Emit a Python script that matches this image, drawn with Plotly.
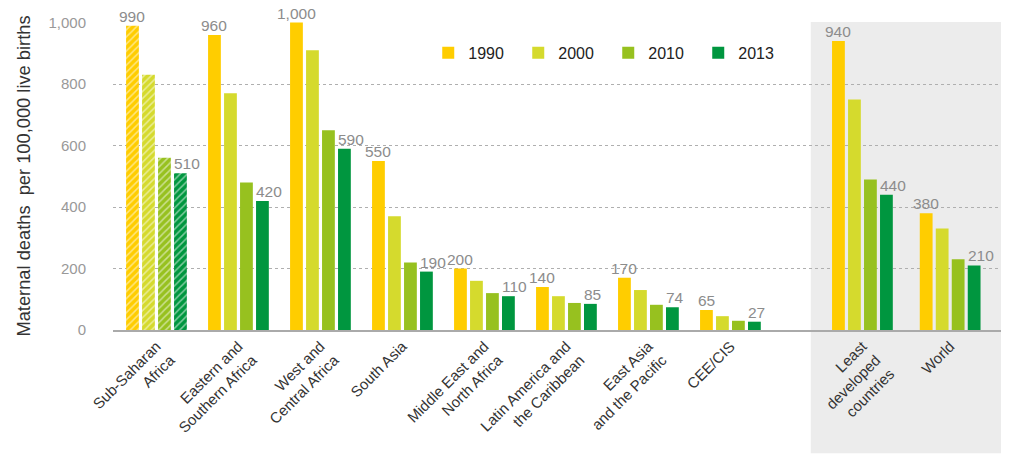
import plotly.graph_objects as go

# regions / groups, in chart order
categories = [
    "Sub-Saharan<br>Africa",
    "Eastern and<br>Southern Africa",
    "West and<br>Central Africa",
    "South Asia",
    "Middle East and<br>North Africa",
    "Latin America and<br>the Caribbean",
    "East Asia<br>and the Pacific",
    "CEE/CIS",
    "Least<br>developed<br>countries",
    "World",
]

years = ["1990", "2000", "2010", "2013"]

mmr_1990 = [990, 960, 1000, 550, 200, 140, 170, 65, 940, 380]
mmr_2000 = [830, 770, 910, 370, 160, 110, 130, 45, 750, 330]
mmr_2010 = [560, 480, 650, 220, 120, 88, 82, 30, 490, 230]
mmr_2013 = [510, 420, 590, 190, 110, 85, 74, 27, 440, 210]

colors = ["#FFCD00", "#D5DA2D", "#97C11F", "#00963F"]

# x position of each group: the last two sit apart on a grey panel
group_x = list(range(8)) + [8.61, 9.68]
x_range = [-0.53, 10.30]

bargap = 0.22
bargroupgap = 0.2
slot = (1 - bargap) / 4

series = [mmr_1990, mmr_2000, mmr_2010, mmr_2013]

fig = go.Figure()

for year, vals, col in zip(years, series, colors):
    fig.add_trace(go.Bar(
        x=group_x,
        y=vals,
        name=year,
        showlegend=False,
        marker=dict(
            color=col,
            line=dict(width=0),
            pattern=dict(
                shape=["/"] + [""] * (len(vals) - 1),
                fgcolor="white",
                size=5,
                solidity=0.3,
            ),
        ),
        hoverinfo="skip",
    ))

# legend entries (plain squares, not hatched)
for year, col in zip(years, colors):
    fig.add_trace(go.Scatter(
        x=[None], y=[None], mode="markers", name=year,
        marker=dict(symbol="square", size=12, color=col),
    ))

# value labels: 1990 centred over its bar, 2013 starting at its bar's left edge
label_font = dict(family="Liberation Sans, Arial, sans-serif", size=15.5, color="#8C8C8C")
annotations = []
for gx, v in zip(group_x, mmr_1990):
    annotations.append(dict(
        x=gx - 1.5 * slot, y=v, text=f"{v:,}", showarrow=False,
        xanchor="center", yanchor="bottom", yshift=-1, font=label_font,
    ))
for gx, v in zip(group_x, mmr_2013):
    left = gx + 1.5 * slot - slot * (1 - bargroupgap) / 2
    annotations.append(dict(
        x=left, y=v, text=f"{v:,}", showarrow=False,
        xanchor="left", yanchor="bottom", yshift=-1, xshift=-2, font=label_font,
    ))

panel_x0 = (7.98 - x_range[0]) / (x_range[1] - x_range[0])

fig.update_layout(
    width=1009,
    height=456,
    margin=dict(l=113, r=8, t=22, b=121),
    paper_bgcolor="white",
    plot_bgcolor="rgba(0,0,0,0)",
    font=dict(family="Liberation Sans, Arial, sans-serif", size=15, color="#333333"),
    barmode="group",
    bargap=bargap,
    bargroupgap=bargroupgap,
    annotations=annotations,
    shapes=[dict(
        type="rect", xref="paper", yref="paper",
        x0=panel_x0, x1=1, y0=-0.4, y1=1,
        fillcolor="#ECECEC", line=dict(width=0), layer="below",
    )],
    legend=dict(
        orientation="h",
        x=0.355, y=0.90,
        xanchor="left", yanchor="middle",
        font=dict(size=16, color="#222222"),
        entrywidth=45,
        bgcolor="rgba(0,0,0,0)",
    ),
    xaxis=dict(
        range=x_range,
        tickvals=group_x,
        ticktext=categories,
        tickangle=-45,
        showgrid=False,
        zeroline=False,
        showline=True,
        linecolor="#AAAAAA",
        linewidth=1.5,
        ticks="",
        tickfont=dict(size=15, color="#333333"),
    ),
    yaxis=dict(
        range=[0, 1002],
        tickvals=[0, 200, 400, 600, 800, 1000],
        ticktext=["0", "200", "400", "600", "800", "1,000"],
        showgrid=True,
        gridcolor="#AFAFAF",
        griddash="dot",
        gridwidth=1,
        zeroline=False,
        showline=False,
        ticks="outside",
        ticklen=23,
        tickcolor="rgba(0,0,0,0)",
        tickfont=dict(size=15, color="#999999"),
        title=dict(
            text="Maternal deaths\u00a0 per 100,000 live births",
            font=dict(size=18.3, color="#333333"),
            standoff=13,
        ),
    ),
)

# the page's default body margin would shift the fixed-size figure
fig.write_html(
    "out.html",
    config={"displayModeBar": False},
    post_script="document.body.style.margin='0';",
)
